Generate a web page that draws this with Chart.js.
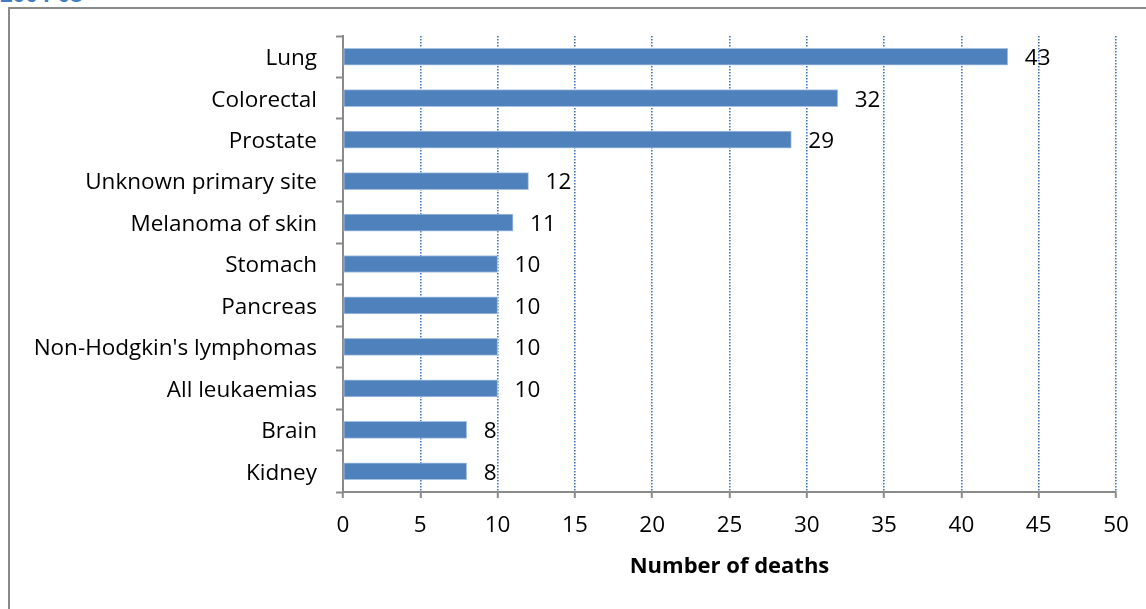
<!DOCTYPE html>
<html>
<head>
<meta charset="utf-8">
<title>Number of deaths by cancer site</title>
<script src="https://cdn.jsdelivr.net/npm/chart.js@4.4.1/dist/chart.umd.min.js"></script>
<style>
  html, body { margin: 0; padding: 0; background: #ffffff; }
  body { width: 1146px; height: 609px; position: relative; overflow: hidden; }
  #heading {
    position: absolute; left: 0; top: -20.5px; line-height: 26px;
    font-family: "Open Sans", sans-serif; font-weight: bold; font-size: 22px;
    color: #3f7cc4; white-space: nowrap;
  }
  #frame {
    position: absolute; left: 8px; top: 7px; width: 1150px; height: 620px;
    border-left: 2px solid #8a8a8a; border-top: 2px solid #8a8a8a;
    box-sizing: border-box;
  }
  #wrap { position: absolute; left: 0; top: 0; width: 1146px; height: 609px; }
</style>
</head>
<body>
<div id="heading">2004-08</div>
<div id="frame"></div>
<div id="wrap"><canvas id="chart" width="1146" height="609"></canvas></div>
<script>
// Cancer sites, top to bottom
const sites = [
  "Lung", "Colorectal", "Prostate", "Unknown primary site", "Melanoma of skin",
  "Stomach", "Pancreas", "Non-Hodgkin's lymphomas", "All leukaemias", "Brain", "Kidney"
];
// Number of deaths per site
const deaths = [43, 32, 29, 12, 11, 10, 10, 10, 10, 8, 8];
// Horizontal axis range and step
const axisMin = 0;
const axisMax = 50;
const axisStep = 5;
const axisTitle = "Number of deaths";

const FONT = "'Open Sans', sans-serif";
const SIZE = 22.5;

// Writes each value just past the end of its bar
const valueLabels = {
  id: "valueLabels",
  afterDatasetsDraw(chart) {
    const ctx = chart.ctx;
    const meta = chart.getDatasetMeta(0);
    ctx.save();
    ctx.font = SIZE + "px " + FONT;
    ctx.fillStyle = "#000000";
    ctx.textAlign = "left";
    ctx.textBaseline = "middle";
    meta.data.forEach((bar, i) => {
      ctx.fillText(String(deaths[i]), bar.x + 17, bar.y + 2);
    });
    ctx.restore();
  }
};

new Chart(document.getElementById("chart"), {
  type: "bar",
  data: {
    labels: sites,
    datasets: [{
      data: deaths,
      backgroundColor: "#4f81bd",
      borderColor: "#a9c1e0",
      borderWidth: 1,
      borderSkipped: false,
      barThickness: 17
    }]
  },
  options: {
    indexAxis: "y",
    responsive: false,
    animation: false,
    devicePixelRatio: 1,
    layout: { padding: { left: 0, right: 30, top: 36, bottom: 0 } },
    plugins: {
      legend: { display: false },
      tooltip: { enabled: false },
      title: { display: false }
    },
    scales: {
      x: {
        type: "linear",
        position: "bottom",
        min: axisMin,
        max: axisMax,
        afterFit(scale) { scale.height = 117; },
        ticks: {
          stepSize: axisStep,
          color: "#000000",
          font: { family: FONT, size: SIZE },
          padding: 14,
          maxRotation: 0
        },
        grid: {
          color: (c) => (c.index === 0 ? "rgba(0,0,0,0)" : "#4278bf"),
          lineWidth: 1.6,
          drawTicks: true,
          tickLength: 6,
          tickColor: "#8a8a8a",
          tickWidth: 2
        },
        border: { display: true, color: "#8a8a8a", width: 2, dash: [1.5, 1.5] },
        title: {
          display: true,
          text: axisTitle,
          color: "#000000",
          font: { family: FONT, size: 22, weight: "bold" },
          padding: { top: 0, bottom: 29 }
        }
      },
      y: {
        type: "category",
        afterFit(scale) { scale.width = 343; },
        ticks: {
          color: "#000000",
          font: { family: FONT, size: SIZE },
          padding: 19,
          labelOffset: 2
        },
        grid: {
          offset: true,
          drawOnChartArea: false,
          drawTicks: true,
          tickLength: 7,
          tickColor: "#8a8a8a",
          tickWidth: 2
        },
        border: { display: true, color: "#8a8a8a", width: 2 }
      }
    }
  },
  plugins: [valueLabels]
});
</script>
</body>
</html>
